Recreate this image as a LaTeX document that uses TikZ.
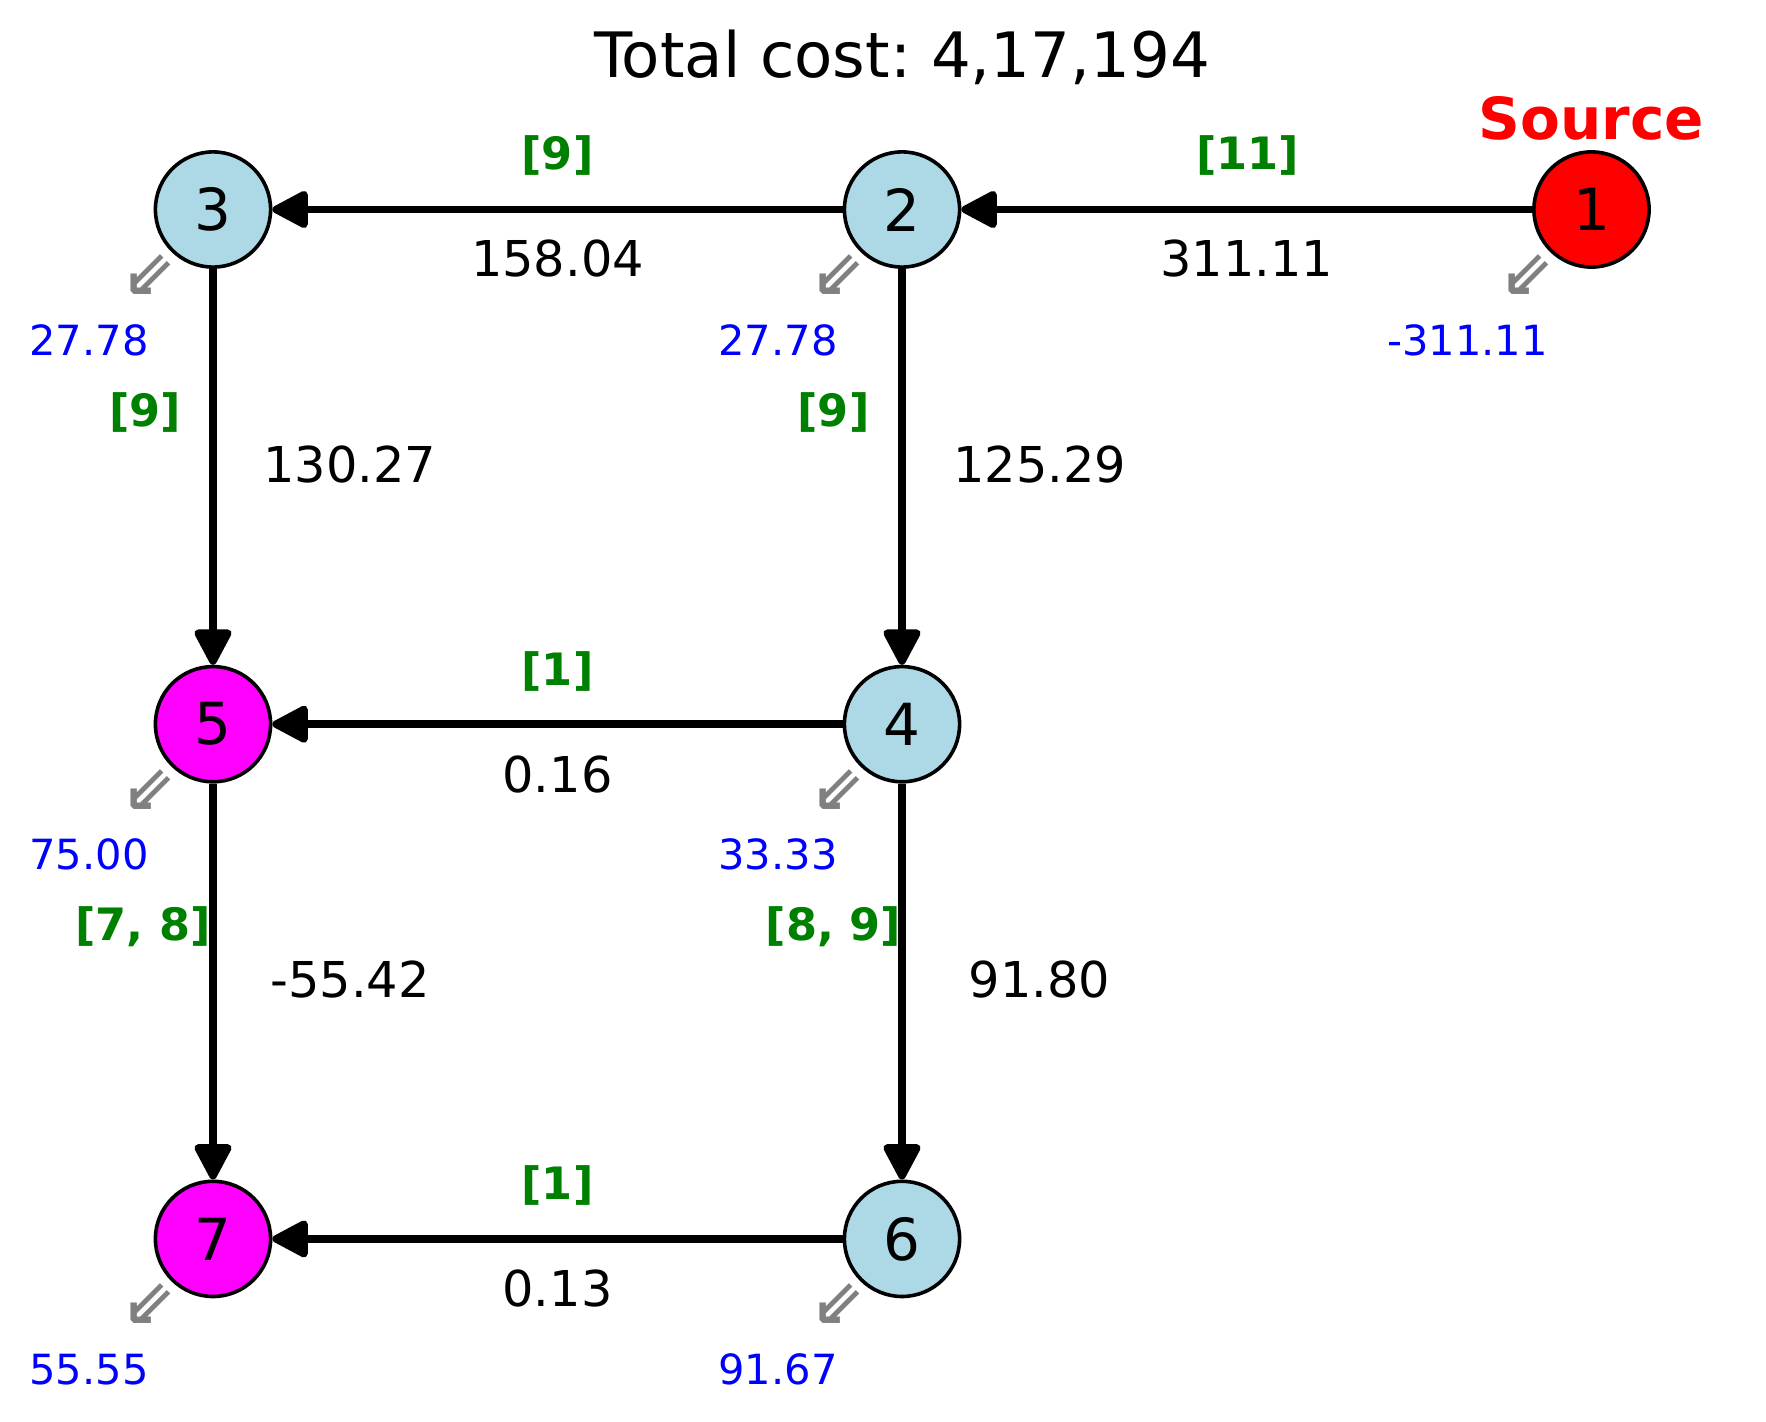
\documentclass[tikz,border=0pt]{standalone}
\usepackage{fontspec}
\setmainfont{DejaVu Sans}
\usetikzlibrary{arrows.meta}
\definecolor{lblue}{HTML}{ADD8E6}
\definecolor{mag}{HTML}{FF00FF}
\definecolor{dgreen}{HTML}{008000}
\definecolor{pblue}{HTML}{0000FF}
\definecolor{pred}{HTML}{FF0000}
\definecolor{pgray}{HTML}{808080}
\frenchspacing
\begin{document}
\begin{tikzpicture}[x=0.5pt,y=-0.5pt,
  vert/.style={circle,draw=black,line width=1.8pt,minimum size=57.6pt,inner sep=0pt,font=\fontsize{29}{34}\selectfont},
  edge/.style={line width=3.75pt,line join=round,-{Triangle[length=20pt,width=20pt,round]}},
  txt/.style={inner sep=0pt,anchor=center},
  flowlab/.style={txt,text=dgreen,font=\bfseries\fontsize{22.3}{26}\selectfont},
  costlab/.style={txt,font=\fontsize{24.7}{29}\selectfont},
  potlab/.style={txt,text=pblue,font=\fontsize{20.8}{25}\selectfont},
  dirarrow/.style={txt,text=pgray,font=\bfseries\fontsize{32}{36}\selectfont}]
\useasboundingbox (0,0) rectangle (1766,1422);
\node[txt,font=\fontsize{31.3}{36}\selectfont] (title) at (902,57) {Total cost: 4,17,194};
\node[txt,text=pred,font=\bfseries\fontsize{29}{34}\selectfont] (src) at (1591.5,118) {Source};
% vertices
\node[vert,fill=pred]  (n1) at (1591.5,209.5) {1};
\node[vert,fill=lblue] (n2) at (902,209.5) {2};
\node[vert,fill=lblue] (n3) at (213,209.5) {3};
\node[vert,fill=lblue] (n4) at (902,724.2) {4};
\node[vert,fill=mag]   (n5) at (213,724.2) {5};
\node[vert,fill=lblue] (n6) at (902,1238.9) {6};
\node[vert,fill=mag]   (n7) at (213,1238.9) {7};
% edges
\draw[edge] (n1) -- (n2);
\draw[edge] (n2) -- (n3);
\draw[edge] (n2) -- (n4);
\draw[edge] (n3) -- (n5);
\draw[edge] (n4) -- (n5);
\draw[edge] (n4) -- (n6);
\draw[edge] (n5) -- (n7);
\draw[edge] (n6) -- (n7);
% flow labels
\node[flowlab] (f12) at (1247.5,155.4) {[11]};
\node[flowlab] (f23) at (557.5,155.4) {[9]};
\node[flowlab] (f35) at (145,412) {[9]};
\node[flowlab] (f24) at (833.5,412) {[9]};
\node[flowlab] (f45) at (557.5,671) {[1]};
\node[flowlab] (f57) at (143,927) {[7, 8]};
\node[flowlab] (f46) at (833.5,927) {[8, 9]};
\node[flowlab] (f67) at (557.5,1185) {[1]};
% cost labels
\node[costlab] (c12) at (1246.8,259) {311.11};
\node[costlab] (c23) at (557.5,259) {158.04};
\node[costlab] (c35) at (350,465) {130.27};
\node[costlab] (c24) at (1039.6,465) {125.29};
\node[costlab] (c45) at (557.5,775) {0.16};
\node[costlab] (c57) at (350,980) {-55.42};
\node[costlab] (c46) at (1039.6,980) {91.80};
\node[costlab] (c67) at (557.5,1288.5) {0.13};
% potentials
\node[potlab] (p1) at (1467.5,340) {-311.11};
\node[potlab] (p2) at (778,340) {27.78};
\node[potlab] (p3) at (89,340) {27.78};
\node[potlab] (p4) at (778,854.7) {33.33};
\node[potlab] (p5) at (89,854.7) {75.00};
\node[potlab] (p6) at (778,1369.4) {91.67};
\node[potlab] (p7) at (89,1369.4) {55.55};
% direction glyphs
\node[dirarrow] (a1) at (1527.5,275) {⇙};
\node[dirarrow] (a2) at (838,275) {⇙};
\node[dirarrow] (a3) at (149,275) {⇙};
\node[dirarrow] (a4) at (838,789.7) {⇙};
\node[dirarrow] (a5) at (149,789.7) {⇙};
\node[dirarrow] (a6) at (838,1304.4) {⇙};
\node[dirarrow] (a7) at (149,1304.4) {⇙};
\end{tikzpicture}
\end{document}
